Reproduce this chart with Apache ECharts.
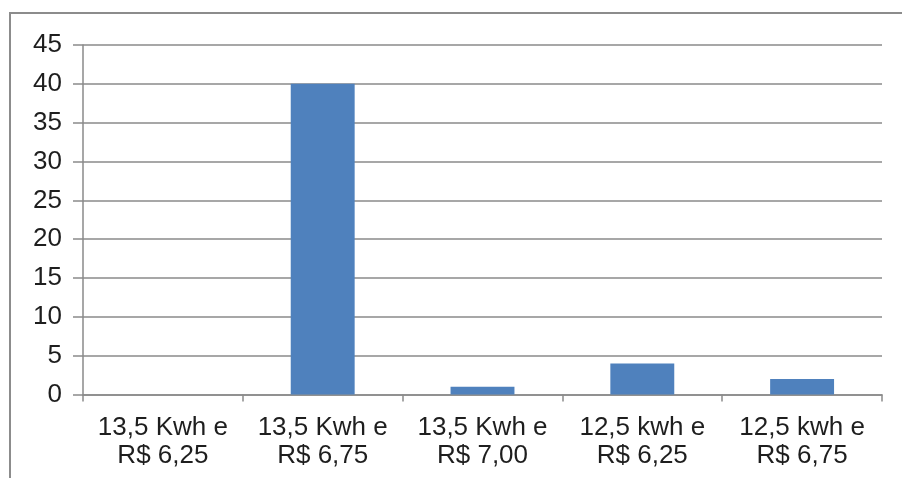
<!DOCTYPE html>
<html>
<head>
<meta charset="utf-8">
<script src="https://cdn.jsdelivr.net/npm/echarts@6/dist/echarts.min.js"></script>
<style>
  html, body { margin: 0; padding: 0; background: #fff; }
  #chart { width: 902px; height: 478px; }
</style>
</head>
<body>
<div id="chart"></div>
<script>
// Tariff options (consumption and price) and number of responses for each
const categories = [
  '13,5 Kwh e\nR$ 6,25',
  '13,5 Kwh e\nR$ 6,75',
  '13,5 Kwh e\nR$ 7,00',
  '12,5 kwh e\nR$ 6,25',
  '12,5 kwh e\nR$ 6,75'
];
const responses = [0, 40, 1, 4, 2];
const yMax = 45;
const yStep = 5;

const gridColor = '#8a8a8a';
const textColor = '#1e1e1e';
const font = '"Liberation Sans", Arial, sans-serif';

const chart = echarts.init(document.getElementById('chart'));
chart.setOption({
  animation: false,
  backgroundColor: '#ffffff',
  graphic: [{
    type: 'rect',
    shape: { x: 10, y: 13, width: 1000, height: 600 },
    style: { fill: 'none', stroke: '#8c8c8c', lineWidth: 2 },
    z: 0
  }],
  grid: { left: 83, top: 45, right: 20, bottom: 83.5 },
  xAxis: {
    type: 'category',
    data: categories,
    axisLine: { show: true, lineStyle: { color: gridColor, width: 1.5 } },
    axisTick: { show: true, length: 7, lineStyle: { color: gridColor, width: 1.5 } },
    axisLabel: {
      color: textColor, fontFamily: font, fontSize: 26, lineHeight: 28,
      margin: 19, interval: 0
    }
  },
  yAxis: {
    type: 'value',
    min: 0, max: yMax, interval: yStep,
    axisLine: { show: true, lineStyle: { color: gridColor, width: 1.5 } },
    axisTick: { show: true, length: 10, lineStyle: { color: gridColor, width: 1.5 } },
    splitLine: { show: true, lineStyle: { color: gridColor, width: 1.5 } },
    axisLabel: { color: textColor, fontFamily: font, fontSize: 26, margin: 21 }
  },
  series: [{
    type: 'bar',
    data: responses,
    barWidth: '40%',
    itemStyle: { color: '#4f81bd' }
  }]
});
</script>
</body>
</html>
